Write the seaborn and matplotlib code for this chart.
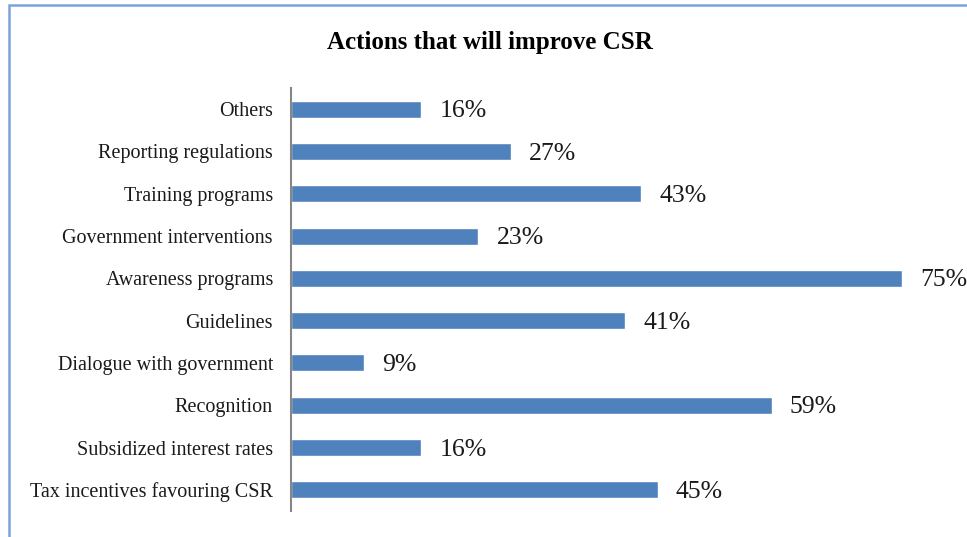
import matplotlib
matplotlib.use("Agg")
import matplotlib.pyplot as plt
import seaborn as sns
import pandas as pd
from matplotlib.patches import Rectangle

categories = [
    "Others",
    "Reporting regulations",
    "Training programs",
    "Government interventions",
    "Awareness programs",
    "Guidelines",
    "Dialogue with government",
    "Recognition",
    "Subsidized interest rates",
    "Tax incentives favouring CSR",
]
values = [16, 27, 43, 23, 75, 41, 9, 59, 16, 45]

df = pd.DataFrame({"action": categories, "pct": values})

sns.set_theme(style="white")
plt.rcParams["font.family"] = ["Liberation Serif", "DejaVu Serif"]

W, H = 967, 537
fig = plt.figure(figsize=(W / 100, H / 100), dpi=100)
ax = fig.add_axes([291 / W, 1 - 511 / H, (943 - 291) / W, (511 - 88) / H])

sns.barplot(data=df, x="pct", y="action", order=categories, color="#4f81bd",
            saturation=1, width=0.4, ax=ax)

ax.set_xlim(0, 80)
ax.set_xlabel("")
ax.set_ylabel("")
ax.set_xticks([])
ax.tick_params(axis="y", length=0, pad=13, labelsize=14.5, labelcolor="#1a1a1a")
for s in ["top", "right", "bottom"]:
    ax.spines[s].set_visible(False)
ax.spines["left"].set_color("#868686")
ax.spines["left"].set_linewidth(1.5)

for i, v in enumerate(values):
    ax.annotate(f"{v}%", xy=(v, i), xytext=(13, -1.5), textcoords="offset points",
                va="center", ha="left", fontsize=18.5, color="#1a1a1a")

fig.text(490 / W, 1 - 42 / H, "Actions that will improve CSR", ha="center",
         va="center", fontsize=18, fontweight="bold", color="#000000")

# chart frame
fig.patches.append(Rectangle((9 / W, -0.05), 1.1, 1 - 5 / H + 0.05,
                             transform=fig.transFigure, fill=False,
                             edgecolor="#7aa3dd", linewidth=1.8))

fig.savefig("out.png", dpi=100)
